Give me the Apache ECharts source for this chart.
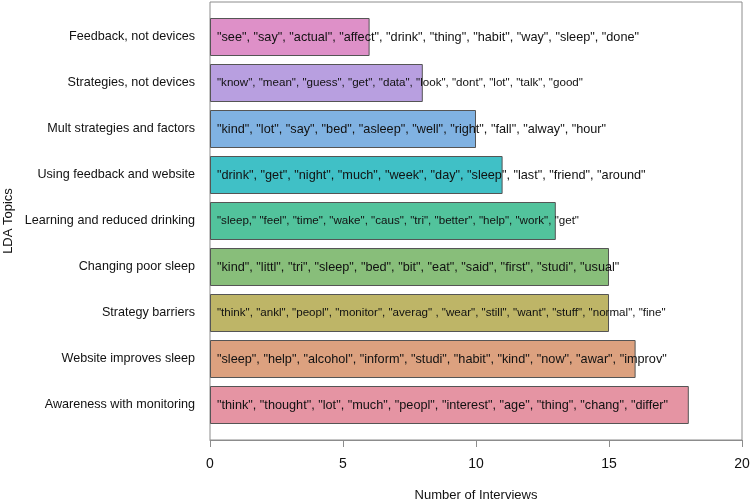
<!DOCTYPE html>
<html>
<head>
<meta charset="utf-8">
<title>LDA Topics</title>
<script src="https://cdn.jsdelivr.net/npm/echarts@6/dist/echarts.min.js"></script>
<style>
  html, body { margin: 0; padding: 0; background: #fff; }
  #chart { width: 750px; height: 500px; }
</style>
</head>
<body>
<div id="chart"></div>
<script>
// --- Datos, de arriba hacia abajo ---
const topics = [
    "Feedback, not devices",
    "Strategies, not devices",
    "Mult strategies and factors",
    "Using feedback and website",
    "Learning and reduced drinking",
    "Changing poor sleep",
    "Strategy barriers",
    "Website improves sleep",
    "Awareness with monitoring"
];

const interviews = [6, 8, 10, 11, 13, 15, 15, 16, 18];

const topicWords = [
    '"see", "say", "actual", "affect", "drink", "thing", "habit", "way", "sleep", "done"',
    '"know", "mean", "guess", "get", "data", "look", "dont", "lot", "talk", "good"',
    '"kind", "lot", "say", "bed", "asleep", "well", "right", "fall", "alway", "hour"',
    '"drink", "get", "night", "much", "week", "day", "sleep", "last", "friend", "around"',
    '"sleep," "feel", "time", "wake", "caus", "tri", "better", "help", "work", "get"',
    '"kind", "littl", "tri", "sleep", "bed", "bit", "eat", "said", "first", "studi", "usual"',
    '"think", "ankl", "peopl", "monitor", "averag" , "wear", "still", "want", "stuff", "normal", "fine"',
    '"sleep", "help", "alcohol", "inform", "studi", "habit", "kind", "now", "awar", "improv"',
    '"think", "thought", "lot", "much", "peopl", "interest", "age", "thing", "chang", "differ"'
];

const barColors = [
    "#de90c8", "#b89fe0", "#80b2e2", "#40c0c6", "#52c39c",
    "#88be7a", "#beb567", "#dca17f", "#e594a3"
];

const wordFontSizes = [12.7, 11.6, 12.7, 12.7, 11.6, 12.7, 11.6, 12.7, 12.7];

const fontFam = "Liberation Sans, Arial, sans-serif";

var myChart = echarts.init(document.getElementById("chart"));

myChart.setOption({
    animation: false,
    textStyle: { fontFamily: fontFam },
    grid: [
        // marco del area de grafico
        { left: 210, top: 2, width: 532, height: 438, show: true, borderColor: "#8c8c8c", borderWidth: 1, outerBoundsMode: "none", containLabel: false },
        // area de barras
        { left: 210, top: 14, width: 532, height: 414, outerBoundsMode: "none", containLabel: false }
    ],
    xAxis: [
        {
            gridIndex: 0,
            type: "value",
            min: 0,
            max: 20,
            interval: 5,
            axisLine: { show: true, lineStyle: { color: "#8c8c8c" } },
            axisTick: { show: true, length: 7, lineStyle: { color: "#8c8c8c" } },
            axisLabel: { fontSize: 14, color: "#111", margin: 17, fontFamily: fontFam },
            splitLine: { show: false },
            name: "Number of Interviews",
            nameLocation: "middle",
            nameGap: 49,
            nameMoveOverlap: false,
            nameTextStyle: { fontSize: 13, color: "#111", fontFamily: fontFam }
        },
        { gridIndex: 1, type: "value", min: 0, max: 20, show: false }
    ],
    yAxis: [
        { gridIndex: 0, type: "value", show: false },
        {
            gridIndex: 1,
            type: "category",
            data: topics,
            inverse: true,
            axisLine: { show: false },
            axisTick: { show: false },
            axisLabel: { fontSize: 12.6, color: "#111", margin: 15, fontFamily: fontFam },
            name: "LDA Topics",
            nameLocation: "middle",
            nameGap: 195,
            nameRotate: 90,
            nameMoveOverlap: false,
            nameTextStyle: { fontSize: 13, color: "#111", fontFamily: fontFam }
        }
    ],
    series: [
        {
            type: "bar",
            xAxisIndex: 1,
            yAxisIndex: 1,
            barWidth: 38,
            data: interviews.map((v, i) => ({
                value: v,
                itemStyle: { color: barColors[i] },
                label: { fontSize: wordFontSizes[i] }
            })),
            itemStyle: { borderColor: "#555", borderWidth: 1 },
            label: {
                show: true,
                position: "insideLeft",
                distance: 7,
                color: "#111",
                fontFamily: fontFam,
                formatter: (p) => topicWords[p.dataIndex]
            }
        }
    ]
});
</script>
</body>
</html>
